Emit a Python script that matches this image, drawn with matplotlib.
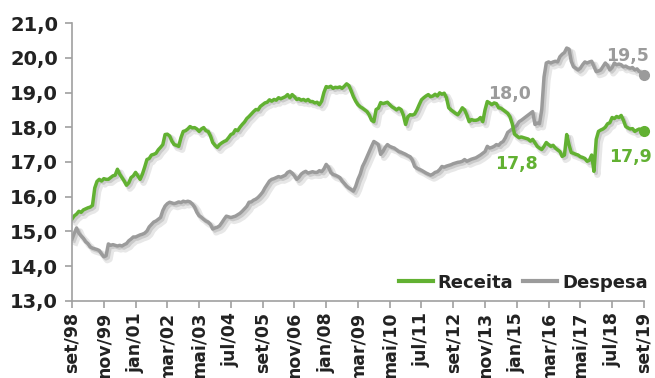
import matplotlib
matplotlib.use("Agg")
import matplotlib.pyplot as plt
import matplotlib.patheffects as pe

plt.rcParams['font.family'] = ['DejaVu Sans']

### data: % do PIB, mensal de set/98 a set/19
receita = [
    15.36, 15.45, 15.50, 15.58,  # 1998 (set-dez)
    15.55, 15.62, 15.65, 15.68, 15.70, 15.75, 16.25, 16.44, 16.50, 16.45, 16.52, 16.50,  # 1999
    16.50, 16.55, 16.60, 16.62, 16.79, 16.65, 16.55, 16.45, 16.33, 16.40, 16.55, 16.60,  # 2000
    16.70, 16.60, 16.50, 16.65, 16.85, 17.07, 17.10, 17.20, 17.22, 17.25, 17.35, 17.42,  # 2001
    17.50, 17.79, 17.80, 17.75, 17.60, 17.50, 17.48, 17.45, 17.70, 17.88, 17.90, 17.95,  # 2002
    18.02, 17.98, 17.99, 17.95, 17.88, 17.95, 17.99, 17.90, 17.88, 17.75, 17.56, 17.48,  # 2003
    17.42, 17.50, 17.55, 17.59, 17.62, 17.70, 17.79, 17.82, 17.93, 17.90, 18.00, 18.08,  # 2004
    18.15, 18.25, 18.31, 18.38, 18.45, 18.51, 18.50, 18.60, 18.65, 18.70, 18.72, 18.79,  # 2005
    18.75, 18.80, 18.78, 18.85, 18.82, 18.85, 18.88, 18.94, 18.85, 18.94, 18.88, 18.80,  # 2006
    18.82, 18.78, 18.80, 18.76, 18.80, 18.74, 18.74, 18.70, 18.72, 18.65, 18.75, 19.00,  # 2007
    19.17, 19.15, 19.18, 19.12, 19.15, 19.14, 19.16, 19.12, 19.18, 19.25, 19.20, 19.05,  # 2008
    18.88, 18.75, 18.65, 18.59, 18.55, 18.50, 18.45, 18.35, 18.20, 18.16, 18.51, 18.55,  # 2009
    18.71, 18.68, 18.70, 18.72, 18.65, 18.59, 18.55, 18.50, 18.55, 18.51, 18.35, 18.08,  # 2010
    18.30, 18.36, 18.35, 18.38, 18.50, 18.65, 18.79, 18.85, 18.90, 18.94, 18.88, 18.90,  # 2011
    18.95, 18.90, 18.99, 18.95, 18.98, 18.85, 18.56, 18.50, 18.45, 18.40, 18.36, 18.45,  # 2012
    18.56, 18.50, 18.35, 18.16, 18.22, 18.20, 18.20, 18.22, 18.28, 18.16, 18.50, 18.74,  # 2013
    18.70, 18.65, 18.70, 18.68, 18.56, 18.55, 18.50, 18.45, 18.40, 18.30, 18.10, 17.80,  # 2014
    17.75, 17.70, 17.72, 17.70, 17.68, 17.66, 17.60, 17.65, 17.55, 17.45, 17.40, 17.36,  # 2015
    17.45, 17.56, 17.50, 17.45, 17.48, 17.40, 17.35, 17.30, 17.16, 17.20, 17.79, 17.50,  # 2016
    17.27, 17.25, 17.22, 17.20, 17.15, 17.13, 17.10, 17.02, 17.05, 17.20, 16.73, 17.65,  # 2017
    17.88, 17.92, 17.95, 18.00, 18.10, 18.13, 18.28, 18.25, 18.31, 18.28, 18.34, 18.20,  # 2018
    18.02, 17.98, 17.95, 17.96, 17.88, 17.92, 17.95, 17.93, 17.90,  # 2019 (jan-set)
]

despesa = [
    14.78, 14.95, 15.10, 14.95,  # 1998 (set-dez)
    14.87, 14.80, 14.70, 14.65, 14.55, 14.52, 14.50, 14.48, 14.45, 14.35, 14.27, 14.30,  # 1999
    14.64, 14.60, 14.62, 14.60, 14.58, 14.60, 14.58, 14.62, 14.65, 14.73, 14.78, 14.84,  # 2000
    14.84, 14.87, 14.90, 14.92, 14.95, 15.01, 15.13, 15.20, 15.27, 15.30, 15.35, 15.40,  # 2001
    15.60, 15.73, 15.80, 15.84, 15.82, 15.80, 15.82, 15.85, 15.83, 15.87, 15.85, 15.87,  # 2002
    15.85, 15.79, 15.70, 15.55, 15.45, 15.41, 15.35, 15.30, 15.27, 15.20, 15.07, 15.10,  # 2003
    15.12, 15.16, 15.25, 15.35, 15.44, 15.42, 15.40, 15.42, 15.44, 15.48, 15.52, 15.58,  # 2004
    15.65, 15.72, 15.84, 15.85, 15.90, 15.93, 15.98, 16.05, 16.13, 16.25, 16.35, 16.45,  # 2005
    16.50, 16.52, 16.55, 16.58, 16.56, 16.59, 16.62, 16.70, 16.73, 16.68, 16.60, 16.50,  # 2006
    16.56, 16.65, 16.70, 16.73, 16.68, 16.70, 16.72, 16.70, 16.70, 16.75, 16.72, 16.80,  # 2007
    16.93, 16.85, 16.70, 16.64, 16.62, 16.59, 16.55, 16.45, 16.38, 16.30, 16.25, 16.21,  # 2008
    16.16, 16.30, 16.50, 16.65, 16.87, 17.00, 17.15, 17.30, 17.45, 17.59, 17.55, 17.50,  # 2009
    17.22, 17.30, 17.42, 17.50, 17.45, 17.42, 17.40, 17.35, 17.30, 17.28, 17.25, 17.22,  # 2010
    17.18, 17.15, 17.05, 16.87, 16.82, 16.79, 16.76, 16.72, 16.68, 16.65, 16.62, 16.65,  # 2011
    16.70, 16.72, 16.78, 16.87, 16.85, 16.88, 16.90, 16.92, 16.95, 16.97, 16.99, 17.00,  # 2012
    17.02, 17.07, 17.02, 17.05, 17.08, 17.10, 17.12, 17.16, 17.20, 17.25, 17.30, 17.45,  # 2013
    17.40, 17.42, 17.45, 17.50, 17.48, 17.55, 17.59, 17.70, 17.85, 17.90, 17.95, 18.00,  # 2014
    18.05, 18.16, 18.20, 18.25, 18.30, 18.35, 18.40, 18.45, 18.08, 18.12, 18.10, 18.51,  # 2015
    19.45, 19.85, 19.88, 19.85, 19.88, 19.90, 19.88, 20.03, 20.10, 20.15, 20.28, 20.25,  # 2016
    19.90, 19.74, 19.70, 19.65, 19.70, 19.80, 19.88, 19.85, 19.88, 19.90, 19.75, 19.60,  # 2017
    19.62, 19.65, 19.75, 19.85, 19.78, 19.65, 19.72, 19.85, 19.80, 19.82, 19.80, 19.74,  # 2018
    19.76, 19.72, 19.70, 19.72, 19.65, 19.68, 19.60, 19.58, 19.50,  # 2019 (jan-set)
]

tick_labels = ["set/98", "nov/99", "jan/01", "mar/02", "mai/03", "jul/04", "set/05",
               "nov/06", "jan/08", "mar/09", "mai/10", "jul/11", "set/12", "nov/13",
               "jan/15", "mar/16", "mai/17", "jul/18", "set/19"]

verde = "#62b132"
cinza = "#9b9b9b"
texto = "#222222"

x = list(range(len(receita)))
i_dez14 = 195  # dez/14
i_fim = len(receita) - 1

### plot
fig = plt.figure(figsize=(6.55, 3.78), dpi=100)
ax = fig.add_axes([0.110, 0.204, 0.873, 0.735])

sombra = [pe.SimpleLineShadow(offset=(2.5, -2.5), shadow_color="#888888", alpha=0.2, linewidth=4.5),
          pe.SimpleLineShadow(offset=(1.5, -1.5), shadow_color="#888888", alpha=0.3),
          pe.Normal()]

ax.plot(x, despesa, color=cinza, lw=2.5, label="Despesa", path_effects=sombra, solid_joinstyle="round")
ax.plot(x, receita, color=verde, lw=2.5, label="Receita", path_effects=sombra, solid_joinstyle="round")
ax.plot(i_fim, despesa[i_fim], "o", color=cinza, ms=7, clip_on=False)
ax.plot(i_fim, receita[i_fim], "o", color=verde, ms=7, clip_on=False)

def fmt(v):
    return ("%.1f" % v).replace(".", ",")

ax.text(i_dez14 - 2, despesa[i_dez14] + 0.95, fmt(despesa[i_dez14]), color=cinza,
        fontsize=12.5, fontweight="bold", ha="center", va="center")
ax.text(i_dez14 + 1, receita[i_dez14] - 0.85, fmt(receita[i_dez14]), color=verde,
        fontsize=12.5, fontweight="bold", ha="center", va="center")
ax.text(i_fim - 7, despesa[i_fim] + 0.55, fmt(despesa[i_fim]), color=cinza,
        fontsize=12.5, fontweight="bold", ha="center", va="center")
ax.text(i_fim - 6, receita[i_fim] - 0.75, fmt(receita[i_fim]), color=verde,
        fontsize=12.5, fontweight="bold", ha="center", va="center")

### axes
ax.set_xlim(0, 252)
ax.set_ylim(13, 21)
ax.set_yticks(range(13, 22))
ax.set_yticklabels([fmt(v) for v in range(13, 22)])
ax.set_xticks(range(0, 253, 14))
ax.set_xticklabels(tick_labels, rotation=90)
for s in ["top", "right"]:
    ax.spines[s].set_visible(False)
for s in ["left", "bottom"]:
    ax.spines[s].set_color("#a0a0a0")
    ax.spines[s].set_linewidth(1.2)
ax.tick_params(axis="both", colors="#a0a0a0", length=5, width=1.2, labelcolor=texto)
ax.tick_params(axis="y", labelsize=14, pad=5)
ax.tick_params(axis="x", labelsize=12.5, pad=3)
for lab in ax.get_xticklabels() + ax.get_yticklabels():
    lab.set_fontweight("bold")

handles, labels = ax.get_legend_handles_labels()
leg = ax.legend(handles[::-1], labels[::-1], loc="lower right", ncol=2, frameon=False,
                bbox_to_anchor=(1.035, -0.025), handlelength=1.9, columnspacing=0.55,
                handletextpad=0.25, prop={"weight": "bold", "size": 13})
for t in leg.get_texts():
    t.set_color(texto)
for h in leg.get_lines():
    h.set_path_effects([])
    h.set_linewidth(3)

plt.savefig("out.png", dpi=100)
